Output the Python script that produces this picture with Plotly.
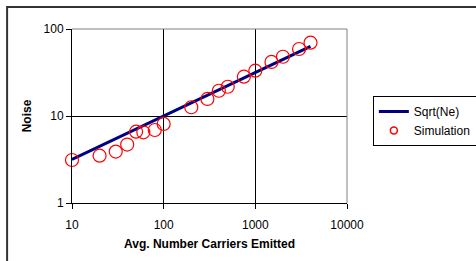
import plotly.graph_objects as go

# Data
sim_x = [10, 20, 30, 40, 50, 60, 80, 100, 200, 300, 400, 500, 750, 1000, 1500, 2000, 3000, 4000]
sim_y = [3.12, 3.5, 3.9, 4.7, 6.6, 6.5, 6.9, 8.1, 12.6, 15.7, 19.5, 21.7, 28.3, 33.2, 41.8, 48.0, 58.9, 69.6]
line_x = [10, 20, 30, 40, 50, 60, 80, 100, 200, 300, 400, 500, 750, 1000, 1500, 2000, 3000, 4000]
line_y = [x ** 0.5 for x in line_x]
x_ticks = [10, 100, 1000, 10000]
y_ticks = [1, 10, 100]

FONT = "Liberation Sans, Arial, sans-serif"
RED = "#ff0000"

fig = go.Figure()
fig.add_trace(go.Scatter(x=line_x, y=line_y, mode="lines", name="Sqrt(Ne)",
                         line=dict(color="#000080", width=3)))
fig.add_trace(go.Scatter(x=sim_x, y=sim_y, mode="markers", name="Simulation", showlegend=False,
                         cliponaxis=False,
                         marker=dict(symbol="circle-open", size=13, color=RED,
                                     line=dict(width=1.2, color=RED))))
# legend entry with smaller marker
fig.add_trace(go.Scatter(x=[None], y=[None], mode="markers", name="Simulation",
                         marker=dict(symbol="circle-open", size=7, color=RED,
                                     line=dict(width=1.5, color=RED))))

fig.update_layout(
    width=476, height=261,
    margin=dict(l=72, r=129, t=29, b=58, autoexpand=False),
    paper_bgcolor="white", plot_bgcolor="white",
    font=dict(family=FONT, size=12, color="black"),
    legend=dict(x=1.094, y=0.615, xanchor="left", yanchor="top",
                bordercolor="black", borderwidth=1, bgcolor="white",
                font=dict(size=12), itemwidth=30, tracegroupgap=0),
    xaxis=dict(type="log", range=[1, 4], tickvals=x_ticks, ticktext=[str(v) for v in x_ticks],
               showgrid=True, gridcolor="black", gridwidth=1, automargin=False,
               showline=True, linecolor="black", linewidth=1,
               ticks="outside", ticklen=5, tickcolor="black", ticklabelstandoff=6,
               title=dict(text="<b>Avg. Number Carriers Emitted</b>", font=dict(size=12), standoff=8),
               zeroline=False),
    yaxis=dict(type="log", range=[0, 2], tickvals=y_ticks, ticktext=[str(v) for v in y_ticks],
               showgrid=True, gridcolor="black", gridwidth=1, automargin=False,
               showline=True, linecolor="black", linewidth=1,
               ticks="outside", ticklen=5, tickcolor="black",
               title=dict(text="<b>Noise</b>", font=dict(size=12), standoff=9),
               zeroline=False),
    shapes=[
        dict(type="line", xref="paper", yref="paper", x0=0, x1=1, y0=1, y1=1,
             line=dict(color="#808080", width=1), layer="above"),
        dict(type="line", xref="paper", yref="paper", x0=1, x1=1, y0=0, y1=1,
             line=dict(color="#808080", width=1), layer="above"),
        dict(type="rect", xref="paper", yref="paper", x0=-0.236, x1=1.5, y0=-0.4, y1=1.126,
             line=dict(color="#333333", width=2), layer="below"),
    ],
)

fig.write_html("out.html", config={"displayModeBar": False},
               post_script="document.body.style.margin='0';")
